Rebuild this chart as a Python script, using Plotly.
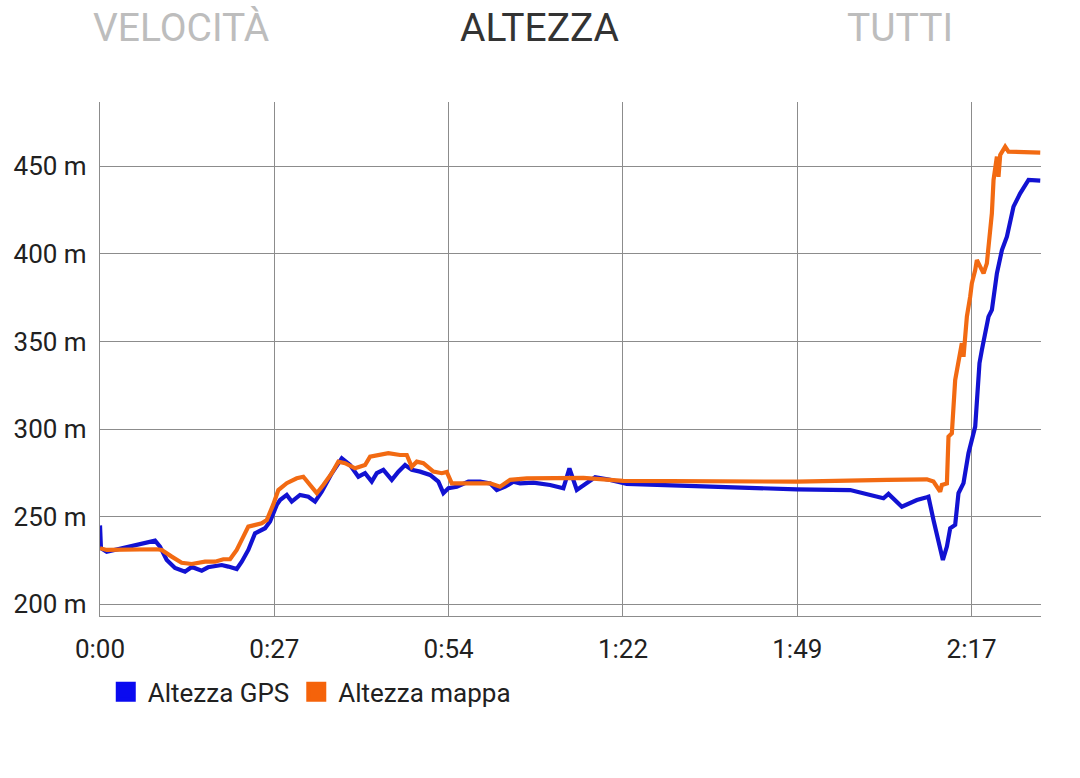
import plotly.graph_objects as go

# time in minutes, altitude in metres
gps_t = [0.0, 0.15, 1.05, 8.65, 9.43, 10.49, 11.79, 13.36, 14.42, 15.99, 16.98, 18.08, 19.13,
         20.17, 21.49, 22.28, 23.31, 24.37, 25.94, 26.73, 27.78, 28.30, 29.35, 30.14, 31.44,
         32.75, 33.80, 34.85, 36.43, 38.00, 39.30, 40.61, 41.66, 42.71, 43.50, 44.54, 45.86,
         46.90, 47.95, 49.00, 50.31, 51.88, 53.18, 53.97, 54.76, 56.08, 57.90, 59.74, 61.31,
         62.36, 63.67, 64.97, 66.03, 68.12, 70.74, 72.83, 73.78, 74.94, 75.98, 77.82, 80.18,
         82.80, 109.53, 117.91, 123.14, 123.93, 126.03, 128.39, 129.96, 130.21, 131.00, 131.79,
         132.48, 133.11, 133.63, 134.41, 134.93, 135.72, 136.50, 137.56, 137.82, 138.23, 138.61,
         139.65, 140.18, 140.97, 141.76, 142.54, 143.58, 144.63, 145.94, 147.78]
gps_h = [245, 232, 230, 236.3, 232.9, 225.3, 220.7, 218.6, 221.3, 219.2, 221.1, 221.9, 222.4,
         221.5, 220.1, 224.3, 231, 240.5, 243.4, 247.2, 256.7, 259.5, 262.4, 258.6, 262.4,
         261.4, 258.6, 264.3, 274.8, 283.3, 279.5, 272.8, 274.8, 270, 274.8, 276.7, 271,
         275.7, 279.5, 276.7, 275.7, 273.8, 270, 263.4, 266.2, 267.1, 270, 270, 269,
         265.2, 267.1, 270, 269, 269.4, 268.1, 266.2, 277.6, 265.2, 268.1, 272.5, 271,
         268.7, 265.6, 265.2, 260.5, 263, 255.7, 259.5, 261.1, 261.4, 248.1, 234.8,
         225.3, 232.9, 243.4, 245.3, 263.4, 269.1, 286.2, 301.4, 318.5, 337.6, 345.2,
         364.2, 368, 388.9, 402.2, 409.8, 427, 434.6, 442.2, 441.8]

map_t = [0.0, 1.05, 8.91, 9.70, 11.27, 12.84, 14.42, 16.51, 18.08, 19.38, 20.44, 21.49, 22.53,
         23.31, 25.42, 26.21, 27.24, 28.03, 29.35, 30.92, 31.96, 33.01, 34.07, 35.10, 36.43,
         37.46, 38.52, 40.09, 41.66, 42.45, 44.02, 45.32, 47.16, 48.22, 49.00, 49.79, 50.83,
         52.40, 53.72, 54.50, 55.29, 61.31, 62.88, 64.46, 67.08, 75.98, 82.22, 109.57, 123.68,
         129.96, 131.00, 132.05, 132.32, 133.11, 133.36, 133.89, 134.41, 134.93, 135.46, 135.72,
         136.25, 136.77, 137.03, 137.56, 137.82, 138.34, 138.87, 139.39, 139.65, 140.18, 140.44,
         140.97, 141.22, 141.49, 142.27, 142.79, 147.78]
map_h = [232, 231, 231.4, 231, 227.2, 223.7, 223, 224.3, 224.3, 225.7, 225.7, 231, 238.6,
         244.3, 246.2, 248.1, 257, 265.2, 269.1, 271.9, 272.8, 268.1, 263.4, 268.1, 274.8,
         281.4, 280.5, 277.6, 279.5, 284.2, 285.2, 286.2, 285.2, 285.2, 278.5, 281.4, 280.5,
         275.7, 274.8, 275.5, 269, 269, 267.1, 271, 271.9, 272.1, 270.4, 270, 271,
         271.3, 270, 264.3, 268.1, 269, 295.7, 297.6, 328, 339.4, 349, 341.3,
         364.2, 375.6, 383.2, 390.8, 396.5, 392.7, 388.9, 394.6, 404.1, 423.2, 442.2,
         455.5, 444, 456.5, 461.2, 458.4, 457.8]

x_tickvals = [0, 27.4, 54.8, 82.2, 109.6, 137.0]
x_ticktext = ["0:00", "0:27", "0:54", "1:22", "1:49", "2:17"]
y_tickvals = [200, 250, 300, 350, 400, 450]
y_ticktext = ["200 m", "250 m", "300 m", "350 m", "400 m", "450 m"]

series_names = ["Altezza GPS", "Altezza mappa"]
series_colors = ["#1212D2", "#F26A12"]
legend_colors = ["#0A0AF0", "#F5630A"]

tabs = ["VELOCITÀ", "ALTEZZA", "TUTTI"]
tab_colors = ["#BDBDBD", "#333333", "#BDBDBD"]
tab_x = [181, 539, 900]

W, H = 1080, 778
ML, MR, MT, MB = 100, 39, 102, 162

fig = go.Figure()
for t, h, name, col in [(gps_t, gps_h, series_names[0], series_colors[0]),
                        (map_t, map_h, series_names[1], series_colors[1])]:
    fig.add_trace(go.Scatter(x=t, y=h, mode="lines", name=name, showlegend=False,
                             line=dict(color=col, width=4.2), hoverinfo="skip"))
for name, col in zip(series_names, legend_colors):
    fig.add_trace(go.Scatter(x=[None], y=[None], mode="markers", name=name,
                             marker=dict(symbol="square", size=16, color=col,
                                         line=dict(color=col, width=4))))

fig.update_layout(
    width=W, height=H,
    margin=dict(l=ML, r=MR, t=MT, b=MB, autoexpand=False),
    paper_bgcolor="white", plot_bgcolor="white",
    font=dict(family="Roboto", size=26, color="#212121"),
    showlegend=True,
    legend=dict(orientation="h", x=0.004, xanchor="left", y=-0.102, yanchor="top",
                font=dict(family="Roboto", size=26, color="#212121"),
                itemsizing="trace", itemwidth=34, tracegroupgap=0, bgcolor="rgba(0,0,0,0)"),
)
fig.update_xaxes(range=[0, 147.9], tickvals=x_tickvals, ticktext=x_ticktext,
                 showgrid=True, gridcolor="#8C8C8C", gridwidth=1.3,
                 showline=True, linecolor="#8C8C8C", linewidth=1.3, mirror=False,
                 zeroline=False, ticks="", ticklabelstandoff=10, automargin=False,
                 tickfont=dict(family="Roboto", size=26, color="#212121"))
fig.update_yaxes(range=[193.3, 486.7], tickvals=y_tickvals, ticktext=y_ticktext,
                 showgrid=True, gridcolor="#8C8C8C", gridwidth=1.3,
                 showline=True, linecolor="#8C8C8C", linewidth=1.3,
                 zeroline=False, ticks="", ticklabelstandoff=7, automargin=False,
                 tickfont=dict(family="Roboto", size=26, color="#212121"))

pw, ph = W - ML - MR, H - MT - MB
for txt, col, xp in zip(tabs, tab_colors, tab_x):
    fig.add_annotation(text=txt, x=(xp - ML) / pw, y=(H - MB - 28) / ph,
                       xref="paper", yref="paper",
                       xanchor="center", yanchor="middle", showarrow=False,
                       font=dict(family="Roboto", size=39, color=col))

fig.write_html("out.html", config={"displayModeBar": False},
               post_script="document.body.style.margin='0';document.body.style.padding='0';")
